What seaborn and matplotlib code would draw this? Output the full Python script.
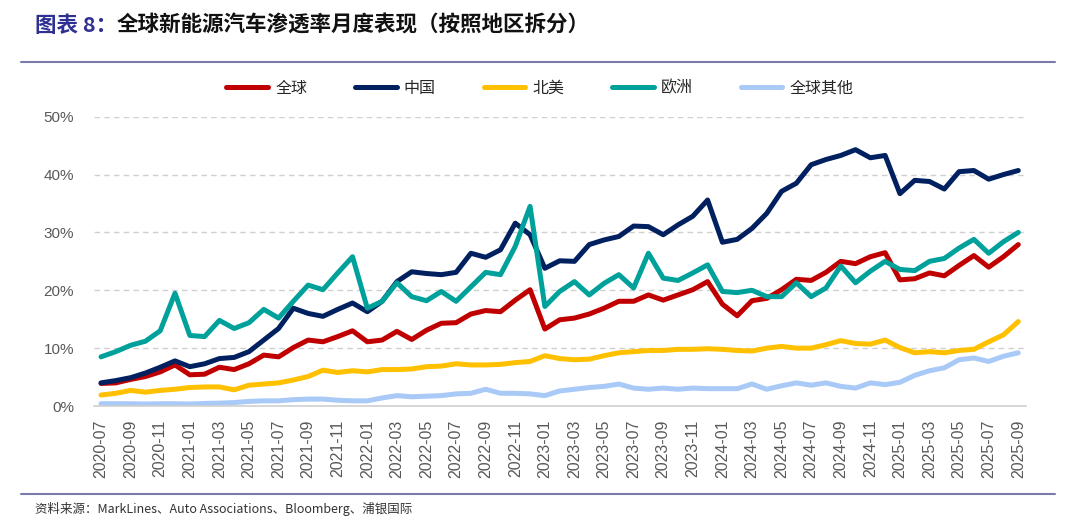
import matplotlib
matplotlib.use("Agg")
import matplotlib.pyplot as plt
from matplotlib.lines import Line2D
import numpy as np
import pandas as pd
import seaborn as sns

# months 2020-07 .. 2025-09
months = [f"{y}-{m:02d}" for y in range(2020, 2026) for m in range(1, 13)]
months = months[months.index("2020-07"):months.index("2025-09") + 1]

# penetration, %
global_pen = [3.9, 4.0, 4.6, 5.1, 5.9, 7.1, 5.4, 5.5, 6.7, 6.3,
              7.3, 8.8, 8.5, 10.1, 11.4, 11.1, 12.0, 13.0, 11.1, 11.4,
              12.9, 11.5, 13.1, 14.3, 14.4, 15.9, 16.5, 16.3, 18.3, 20.1,
              13.3, 14.9, 15.2, 15.9, 16.9, 18.1, 18.1, 19.2, 18.3, 19.2,
              20.1, 21.5, 17.6, 15.6, 18.2, 18.6, 20.1, 21.9, 21.7, 23.1,
              25.0, 24.6, 25.8, 26.5, 21.8, 22.0, 23.0, 22.5, 24.3, 26.0,
              24.0, 25.8, 27.9]
china = [4.0, 4.4, 4.9, 5.7, 6.7, 7.8, 6.8, 7.3, 8.2, 8.4,
         9.4, 11.4, 13.4, 16.9, 16.0, 15.5, 16.7, 17.8, 16.3, 18.1,
         21.5, 23.2, 22.9, 22.7, 23.1, 26.4, 25.7, 27.0, 31.6, 29.6,
         23.8, 25.1, 25.0, 27.9, 28.7, 29.3, 31.1, 31.0, 29.6, 31.3,
         32.8, 35.6, 28.3, 28.8, 30.7, 33.3, 37.1, 38.5, 41.7, 42.6,
         43.3, 44.3, 42.9, 43.3, 36.7, 39.0, 38.8, 37.5, 40.5, 40.7,
         39.2, 40.0, 40.7]
north_america = [1.9, 2.2, 2.7, 2.4, 2.7, 2.9, 3.2, 3.3, 3.3, 2.8,
                 3.6, 3.8, 4.0, 4.5, 5.1, 6.2, 5.8, 6.1, 5.9, 6.3,
                 6.3, 6.4, 6.8, 6.9, 7.3, 7.1, 7.1, 7.2, 7.5, 7.7,
                 8.7, 8.2, 8.0, 8.1, 8.7, 9.2, 9.4, 9.6, 9.6, 9.8,
                 9.8, 9.9, 9.8, 9.6, 9.5, 10.0, 10.3, 10.0, 10.0, 10.6,
                 11.3, 10.8, 10.7, 11.4, 10.1, 9.2, 9.4, 9.2, 9.6, 9.8,
                 11.1, 12.3, 14.6]
europe = [8.5, 9.4, 10.5, 11.2, 13.0, 19.5, 12.2, 12.0, 14.8, 13.4,
          14.4, 16.7, 15.2, 18.1, 20.9, 20.1, 23.0, 25.8, 16.9, 18.1,
          21.3, 18.9, 18.2, 19.8, 18.1, 20.6, 23.1, 22.7, 27.6, 34.5,
          17.2, 19.8, 21.5, 19.2, 21.2, 22.7, 20.4, 26.4, 22.1, 21.7,
          23.0, 24.4, 19.8, 19.6, 20.0, 18.9, 18.9, 21.3, 18.9, 20.4,
          24.2, 21.3, 23.3, 25.0, 23.6, 23.4, 25.0, 25.5, 27.3, 28.8,
          26.4, 28.4, 30.0]
rest_of_world = [0.4, 0.4, 0.4, 0.35, 0.4, 0.4, 0.35, 0.45, 0.5, 0.6,
                 0.8, 0.9, 0.9, 1.1, 1.2, 1.2, 1.0, 0.9, 0.9, 1.4,
                 1.8, 1.6, 1.7, 1.8, 2.1, 2.2, 2.9, 2.2, 2.2, 2.1,
                 1.8, 2.6, 2.9, 3.2, 3.4, 3.8, 3.1, 2.9, 3.1, 2.9,
                 3.1, 3.0, 3.0, 3.0, 3.8, 2.9, 3.5, 4.0, 3.6, 4.0,
                 3.4, 3.1, 4.0, 3.7, 4.1, 5.3, 6.1, 6.6, 8.0, 8.3,
                 7.7, 8.6, 9.2]

series_names = ["全球", "中国", "北美", "欧洲", "全球其他"]
series_vals = [global_pen, china, north_america, europe, rest_of_world]
colors = ["#C00000", "#002060", "#FFC000", "#00A19B", "#A9C9F7"]

rows = []
for name, vals in zip(series_names, series_vals):
    for i, v in enumerate(vals):
        rows.append({"idx": i, "month": months[i], "region": name, "value": v})
df = pd.DataFrame(rows)

sns.set_style("white")
plt.rcParams['font.family'] = ['Liberation Sans', 'Noto Sans CJK SC']

fig = plt.figure(figsize=(10.8, 5.28), dpi=100)
ax = fig.add_axes([0.0867, 0.231, 0.863, 0.548])

sns.lineplot(data=df, x="idx", y="value", hue="region", hue_order=series_names,
             palette=dict(zip(series_names, colors)), linewidth=3.6,
             ax=ax, legend=False, solid_joinstyle="round", solid_capstyle="round")

ax.set_xlim(-0.5, len(months) - 0.5)
ax.set_ylim(0, 50)
ax.set_yticks(range(0, 51, 10))
ax.set_yticklabels([f"{v}%" for v in range(0, 51, 10)], fontsize=11, color="#595959")
ax.yaxis.grid(True, linestyle=(0, (4, 3)), color="#D0D0D0", linewidth=1.0)
ax.set_axisbelow(True)

ax.set_xticks(range(0, len(months), 2))
ax.set_xticklabels(months[::2], rotation=90, fontsize=11.5, color="#595959")
ax.set_xticks(np.arange(-0.5, len(months), 2), minor=True)
ax.tick_params(axis="x", which="major", length=0, pad=10)
ax.tick_params(axis="x", which="minor", length=5, color="#D0D0D0", width=1)
ax.tick_params(axis="y", length=0, pad=14)
ax.set_xlabel("")
ax.set_ylabel("")
for s in ["left", "top", "right"]:
    ax.spines[s].set_visible(False)
ax.spines["bottom"].set_color("#D0D0D0")
ax.spines["bottom"].set_linewidth(1.2)

handles = [Line2D([], [], color=c, linewidth=3.6) for c in colors]
fig.legend(handles, series_names, loc="center", bbox_to_anchor=(0.5, 0.833),
           ncol=5, frameon=False, handlelength=2.6, handletextpad=0.45,
           columnspacing=3.0, prop={"family": ["Noto Sans CJK SC"], "size": 11.5})

# title and rules
fig.text(0.032, 0.952, "图表 8：", fontsize=15.5, fontweight="bold", color="#2E3192",
         family=["Noto Sans CJK SC"], va="center")
fig.text(0.108, 0.952, "全球新能源汽车渗透率月度表现（按照地区拆分）", fontsize=15.5,
         fontweight="bold", color="#111111", family=["Noto Sans CJK SC"], va="center")
fig.add_artist(Line2D([0.019, 0.977], [0.8826, 0.8826], color="#7B7BAB", linewidth=1.5))
fig.add_artist(Line2D([0.019, 0.977], [0.0644, 0.0644], color="#7B7BAB", linewidth=1.5))
fig.text(0.032, 0.036, "资料来源：MarkLines、Auto Associations、Bloomberg、浦银国际",
         fontsize=9, color="#333333", family=["Noto Sans CJK SC"], va="center")

fig.savefig("out.png", dpi=100)
